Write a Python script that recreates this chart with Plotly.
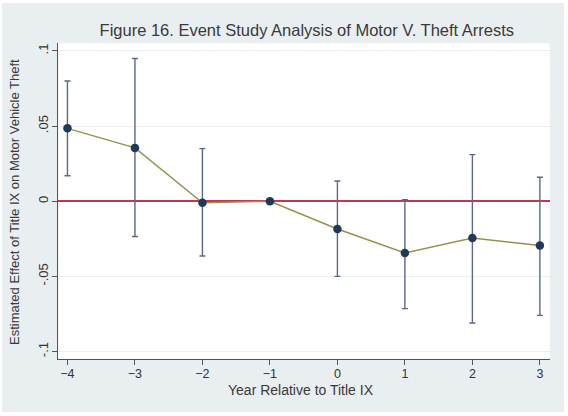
import plotly.graph_objects as go

years = [-4, -3, -2, -1, 0, 1, 2, 3]
estimates = [0.0485, 0.0355, -0.001, 0.0, -0.0185, -0.0345, -0.0245, -0.0295]
ci_upper = [0.080, 0.095, 0.035, 0.0, 0.0135, 0.001, 0.031, 0.016]
ci_lower = [0.017, -0.0235, -0.0365, 0.0, -0.050, -0.0715, -0.0810, -0.0760]

y_tick_vals = [-0.1, -0.05, 0, 0.05, 0.1]
y_tick_text = ["-.1", "-.05", "0", ".05", ".1"]
x_tick_vals = [-4, -3, -2, -1, 0, 1, 2, 3]

FONT = "Liberation Sans, Arial, Helvetica, sans-serif"
err_plus = [u - e for u, e in zip(ci_upper, estimates)]
err_minus = [e - l for e, l in zip(estimates, ci_lower)]
has_ci = [u != l for u, l in zip(ci_upper, ci_lower)]
ex = [x for x, h in zip(years, has_ci) if h]
ey = [e for e, h in zip(estimates, has_ci) if h]
ep = [p for p, h in zip(err_plus, has_ci) if h]
em = [m for m, h in zip(err_minus, has_ci) if h]

fig = go.Figure()
fig.add_trace(go.Scatter(
    x=ex, y=ey, mode="markers", marker=dict(size=0.1, opacity=0),
    error_y=dict(type="data", symmetric=False, array=ep, arrayminus=em,
                 color="#5b6a80", thickness=1.4, width=3),
    showlegend=False, hoverinfo="skip"))
fig.add_trace(go.Scatter(
    x=years, y=estimates, mode="lines",
    line=dict(color="#979150", width=1.5), showlegend=False))
fig.add_trace(go.Scatter(
    x=years, y=estimates, mode="markers",
    marker=dict(color="#1f3a58", size=8.5), showlegend=False))

L, R, T, B = 58, 18, 43, 57
W, H = 568, 416
pw, ph = W - L - R, H - T - B

def px(x):
    return (x - L) / pw

def py(y):
    return (H - B - y) / ph

fig.update_layout(
    width=W, height=H,
    margin=dict(l=L, r=R, t=T, b=B),
    paper_bgcolor="white",
    plot_bgcolor="white",
    font=dict(family=FONT, color="#333333"),
    title=dict(text="Figure 16. Event Study Analysis of Motor V. Theft Arrests",
               x=(L + pw / 2) / W + 0.005, xanchor="center",
               y=1 - 30 / H, yanchor="middle",
               font=dict(size=16.5, color="#3a3a3a", family=FONT)),
    shapes=[
        dict(type="rect", xref="paper", yref="paper",
             x0=px(2), x1=px(564), y0=py(412), y1=py(3),
             fillcolor="#e9eef1", line=dict(width=0), layer="below"),
        dict(type="rect", xref="paper", yref="paper",
             x0=0, x1=1, y0=0, y1=1,
             fillcolor="white", line=dict(width=1, color="#edf1f3"), layer="below"),
    ],
    annotations=[
        dict(text="Estimated Effect of Title IX on Motor Vehicle Theft",
             xref="paper", yref="paper", x=px(14), y=py(202),
             xanchor="center", yanchor="middle", textangle=-90, showarrow=False,
             font=dict(size=13, color="#3a3a3a", family=FONT)),
        dict(text="Year Relative to Title IX",
             xref="paper", yref="paper", x=px(301), y=py(390),
             xanchor="center", yanchor="middle", showarrow=False,
             font=dict(size=14, color="#3a3a3a", family=FONT)),
    ],
    xaxis=dict(
        range=[-4.14, 3.15], tickvals=x_tick_vals,
        showgrid=False, zeroline=False,
        showline=True, linecolor="#555555", linewidth=1,
        ticks="outside", ticklen=5, tickcolor="#555555",
        ticklabelstandoff=-2,
        tickfont=dict(size=12.5, color="#333333"),
    ),
    yaxis=dict(
        range=[-0.105, 0.1053], tickvals=y_tick_vals, ticktext=y_tick_text,
        tickangle=-90, ticklabelstandoff=-1,
        showgrid=True, gridcolor="#eaf0f2", gridwidth=1,
        zeroline=True, zerolinecolor="#c23556", zerolinewidth=1.8,
        showline=True, linecolor="#555555", linewidth=1,
        ticks="outside", ticklen=5, tickcolor="#555555",
        tickfont=dict(size=13, color="#333333"),
    ),
)

fig.write_html("out.html", config={"displayModeBar": False},
               post_script="document.body.style.margin='0';document.body.style.padding='0';")
